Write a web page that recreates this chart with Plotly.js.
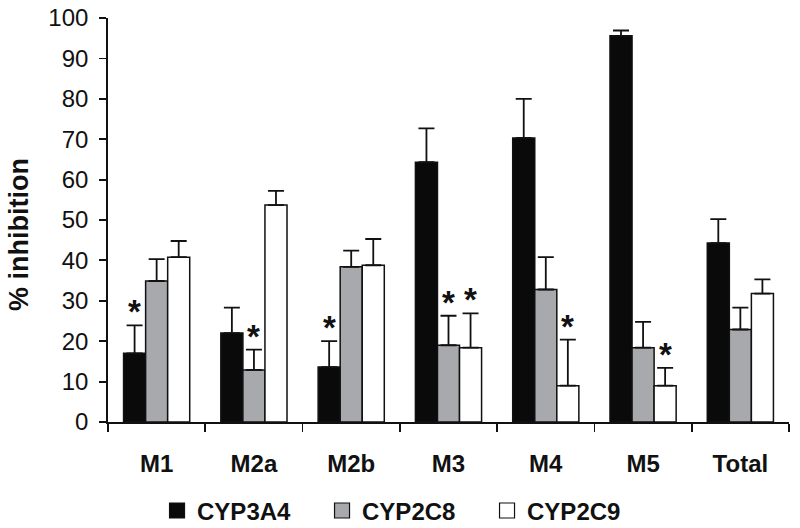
<!DOCTYPE html>
<html><head><meta charset="utf-8">
<script src="https://cdn.plot.ly/plotly-3.0.1.min.js"></script>
<style>html,body{margin:0;padding:0;background:#fff}#chart{width:800px;height:528px}</style>
</head><body><div id="chart"></div>
<script>
const categories = ["M1","M2a","M2b","M3","M4","M5","Total"];
const seriesNames = ["CYP3A4","CYP2C8","CYP2C9"];
const cyp3a4 = [17.0, 22.0, 13.6, 64.3, 70.3, 95.6, 44.3];
const cyp3a4Err = [6.9, 6.3, 6.4, 8.4, 9.7, 1.3, 5.9];
const cyp2c8 = [34.9, 12.9, 38.4, 19.0, 32.8, 18.4, 22.9];
const cyp2c8Err = [5.4, 5.0, 4.0, 7.3, 8.0, 6.4, 5.4];
const cyp2c9 = [40.8, 53.7, 38.8, 18.4, 9.0, 9.0, 31.8];
const cyp2c9Err = [4.0, 3.5, 6.5, 8.5, 11.4, 4.4, 3.5];
const signif3a4 = [true,false,true,false,false,false,false];
const signif2c8 = [false,true,false,true,false,false,false];
const signif2c9 = [false,false,false,true,true,true,false];
const yTitle = "% inhibition";

const FONT = "Liberation Sans, Arial, sans-serif";
const fills = ["#0a0a0a","#a7a9ac","#ffffff"];
const vals = [cyp3a4, cyp2c8, cyp2c9];
const errs = [cyp3a4Err, cyp2c8Err, cyp2c9Err];
const sig = [signif3a4, signif2c8, signif2c9];

const traces = seriesNames.map((n,i)=>({
  type:"bar", name:n, x:categories, y:vals[i], showlegend:false,
  marker:{color:fills[i], line:{color:"#111", width:1.5}},
  error_y:{type:"data", array:errs[i], arrayminus:errs[i].map(()=>0), symmetric:false,
           color:"#111", thickness:1.8, width:8},
  hoverinfo:"skip"
}));
// legend proxies (no data points)
seriesNames.forEach((n,i)=>traces.push({
  type:"scatter", mode:"markers", name:n, x:[null], y:[null], showlegend:true,
  marker:{symbol:"square", size:15, color:fills[i], line:{color:"#111", width:1.2}},
  hoverinfo:"skip"
}));

const shifts = [-22, 0, 22];
const annotations = [];
sig.forEach((arr,i)=>arr.forEach((s,j)=>{
  if(s) annotations.push({x:categories[j], y:vals[i][j]+errs[i][j], xref:"x", yref:"y",
    text:"*", showarrow:false, xshift:shifts[i], yanchor:"bottom", yshift:-7,
    font:{family:FONT, size:33, color:"#111", weight:"bold"}});
}));
annotations.push({xref:"paper", yref:"paper", x:-0.131, y:0.465, xanchor:"center", yanchor:"middle",
  text:yTitle, textangle:-90, showarrow:false,
  font:{family:FONT, size:27, weight:"bold", color:"#111"}});

const layout = {
  width:800, height:528,
  margin:{l:108, r:11, t:18, b:106, autoexpand:false},
  paper_bgcolor:"#fff", plot_bgcolor:"#fff",
  barmode:"group", bargap:0.32, bargroupgap:0,
  font:{family:FONT, color:"#111"},
  showlegend:true,
  legend:{orientation:"h", x:0.072, xanchor:"left", y:-0.22, yanchor:"middle",
    font:{family:FONT, size:24, weight:"bold", color:"#111"},
    entrywidth:120, entrywidthmode:"pixels", itemwidth:30, traceorder:"normal"},
  xaxis:{type:"category", showline:true, linecolor:"#111", linewidth:1.8, automargin:false,
    ticks:"outside", tickson:"boundaries", ticklen:8, tickwidth:1.8, tickcolor:"#111",
    tickfont:{family:FONT, size:24, weight:"bold", color:"#111"}, ticklabelstandoff:19,
    showgrid:false, zeroline:false, fixedrange:true},
  yaxis:{range:[0,100], dtick:10, showline:true, linecolor:"#111", linewidth:1.8, automargin:false,
    ticks:"outside", ticklen:7, tickwidth:1.8, tickcolor:"#111",
    tickfont:{family:FONT, size:24, color:"#111"}, ticklabelstandoff:6,
    showgrid:false, zeroline:false},
  annotations:annotations
};
Plotly.newPlot("chart", traces, layout, {staticPlot:true, displayModeBar:false});
</script></body></html>
